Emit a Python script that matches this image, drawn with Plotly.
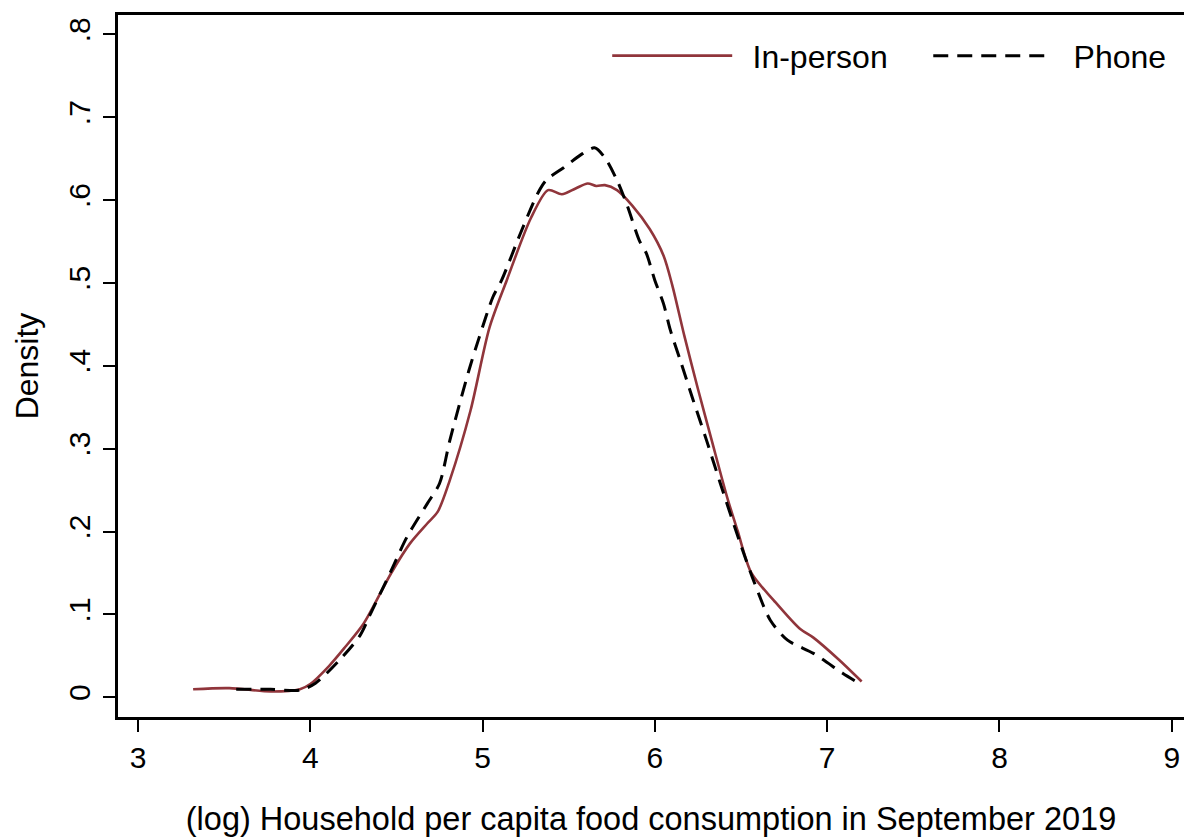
import plotly.graph_objects as go

# In-person density (log food consumption)
inperson_x = [3.32, 3.53, 3.77, 3.94, 4.00, 4.11, 4.20, 4.31, 4.47, 4.58, 4.68, 4.74, 4.81, 4.93, 5.04, 5.14,
              5.28, 5.38, 5.46, 5.54, 5.61, 5.66, 5.71, 5.78, 5.87, 5.97, 6.05, 6.10, 6.17, 6.25, 6.33,
              6.42, 6.48, 6.56, 6.69, 6.84, 6.92, 7.07, 7.20]
inperson_y = [0.0097, 0.011, 0.007, 0.0097, 0.016, 0.038, 0.060, 0.089, 0.150, 0.186, 0.210, 0.224, 0.262,
              0.346, 0.446, 0.503, 0.578, 0.612, 0.607, 0.614, 0.620, 0.617, 0.618, 0.612, 0.593, 0.565,
              0.533, 0.498, 0.437, 0.372, 0.310, 0.241, 0.201, 0.150, 0.117, 0.083, 0.072, 0.045, 0.019]

# Phone density
phone_x = [3.57, 3.77, 3.94, 4.03, 4.17, 4.29, 4.35, 4.47, 4.56, 4.68, 4.75, 4.81, 4.92, 4.98, 5.06, 5.11,
           5.22, 5.32, 5.37, 5.47, 5.58, 5.65, 5.71, 5.78, 5.84, 5.91, 5.95, 6.00, 6.05, 6.09, 6.15, 6.22,
           6.30, 6.38, 6.49, 6.58, 6.67, 6.77, 6.92, 7.09, 7.16]
phone_y = [0.0097, 0.0097, 0.0085, 0.017, 0.045, 0.075, 0.101, 0.153, 0.193, 0.234, 0.258, 0.310, 0.394,
           0.434, 0.483, 0.503, 0.560, 0.608, 0.624, 0.639, 0.656, 0.663, 0.651, 0.624, 0.593, 0.551,
           0.536, 0.503, 0.475, 0.443, 0.405, 0.360, 0.310, 0.258, 0.189, 0.137, 0.093, 0.069, 0.053,
           0.029, 0.020]

x_ticks = [3, 4, 5, 6, 7, 8, 9]
y_ticks = [0, 0.1, 0.2, 0.3, 0.4, 0.5, 0.6, 0.7, 0.8]
y_tick_labels = ["0", ".1", ".2", ".3", ".4", ".5", ".6", ".7", ".8"]

FONT = "Liberation Sans, Arial, sans-serif"
NB = "\u00a0"
TS = "\u2009"

fig = go.Figure()
fig.add_trace(go.Scatter(x=inperson_x, y=inperson_y, mode="lines", name=NB + TS + "In-person" + NB * 4,
                         line=dict(color="rgb(144,53,59)", width=2.6, shape="spline", smoothing=0.8)))
fig.add_trace(go.Scatter(x=phone_x, y=phone_y, mode="lines", name=NB + TS + "Phone",
                         line=dict(color="black", width=3, dash="15px,9px", shape="spline", smoothing=0.8)))

fig.update_layout(
    width=1184, height=837,
    margin=dict(l=118, r=0, t=15, b=120),
    paper_bgcolor="white", plot_bgcolor="white",
    font=dict(family=FONT, size=30, color="black"),
    showlegend=True,
    legend=dict(orientation="h", x=0.988, xanchor="right", y=0.981, yanchor="top",
                bgcolor="rgba(0,0,0,0)", font=dict(size=32), itemwidth=120,
                traceorder="normal"),
    xaxis=dict(range=[2.884, 9.071], tickmode="array", tickvals=x_ticks, automargin=False,
               showgrid=False, zeroline=False, showline=True, linecolor="black", linewidth=2.5,
               mirror=True, ticks="outside", ticklen=12, tickwidth=2, tickcolor="black",
               tickfont=dict(size=30),
               title=dict(text="(log) Household per capita food consumption in September 2019",
                          font=dict(size=32.5), standoff=39)),
    yaxis=dict(range=[-0.0238, 0.8233], tickmode="array", tickvals=y_ticks, ticktext=y_tick_labels,
               automargin=False, ticklabelstandoff=1,
               tickangle=-90, showgrid=False, zeroline=False, showline=True, linecolor="black",
               linewidth=2.5, ticks="outside", ticklen=12, tickwidth=2, tickcolor="black",
               tickfont=dict(size=30),
               title=dict(text="Density", font=dict(size=32), standoff=16)),
)

# remove the default 8px page margin so the figure fills the window exactly
fig.write_html("out.html", config={"displayModeBar": False},
               post_script="document.body.style.margin='0';document.body.style.overflow='hidden';")
